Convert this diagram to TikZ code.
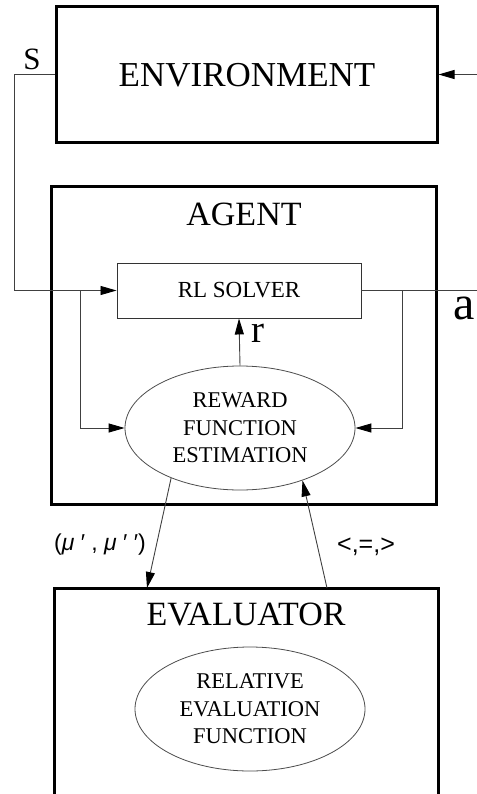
\documentclass[tikz,border=0pt]{standalone}
\usepackage{fontspec}
\setmainfont{Liberation Serif}
\setsansfont{Liberation Sans}
\usetikzlibrary{arrows.meta,shapes.geometric,calc}
\begin{document}
\begin{tikzpicture}[x=1bp,y=-1bp,
  thickbox/.style={draw=black,line width=3bp,rectangle,inner sep=0pt},
  thinbox/.style={draw=black!80,line width=0.9bp,rectangle,inner sep=0pt},
  ell/.style={draw=black!70,line width=0.8bp,ellipse,inner sep=0pt,align=center,
     font=\fontsize{22.5bp}{27.5bp}\selectfont},
  conn/.style={draw=black!75,line width=0.9bp},
  arr/.style={conn,-{Triangle[length=16bp,width=9bp,color=black,fill=black]}},
  big/.style={font=\fontsize{34bp}{40bp}\selectfont,inner sep=0pt},
  lbl/.style={inner sep=0pt}]
\useasboundingbox (0,0) rectangle (477,794);
\clip (0,0) rectangle (477,794);
% boxes
\node[thickbox,minimum width=380bp,minimum height=135bp] (env) at (247,74.5) {};
\node[big,font=\fontsize{35bp}{40bp}\selectfont] (envt) at (247,75) {ENVIRONMENT};
\node[thickbox,minimum width=384bp,minimum height=317bp] (agent) at (244,345.5) {};
\node[big] (agentt) at (244,203) [anchor=north] {AGENT};
\node[thinbox,minimum width=244bp,minimum height=55bp,font=\fontsize{23bp}{27bp}\selectfont] (rl) at (239,290.5) {RL SOLVER};
\node[ell,minimum width=230bp,minimum height=124bp] (rew) at (240,428) {REWARD\\FUNCTION\\ESTIMATION};
\node[thickbox,minimum width=383bp,minimum height=300bp] (eval) at (246.5,738) {};
\node[big] (evalt) at (246,603) [anchor=north] {EVALUATOR};
\node[ell,minimum width=230bp,minimum height=124bp] (rel) at (250,709) {RELATIVE\\EVALUATION\\FUNCTION};
% coordinates
\coordinate (in) at (477,74.5);
\coordinate (sc) at (14,74.5);
\coordinate (out) at (477,290.5);
\coordinate (lf) at (80,290.5);
\coordinate (rf) at (402,290.5);
\coordinate (e1) at (147,588);
\coordinate (e2) at (327,588);
% connectors
\draw[arr] (in) -- (env.east);
\draw[arr] (env.west) -- (sc) |- (rl.west);
\draw[conn] (rl.east) -- (out);
\draw[arr] (lf) |- (rew.west);
\draw[arr] (rf) |- (rew.east);
\draw[arr] (rew.north) -- (rl.south);
\draw[arr] (rew.216) -- (e1);
\draw[arr] (e2) -- (rew.-40.6);
% labels
\node[lbl,font=\fontsize{31bp}{36bp}\selectfont] (sl) at (32,59) {S};
\node[lbl,font=\fontsize{48bp}{52bp}\selectfont] (al) at (464,308) {a};
\node[lbl,font=\fontsize{39bp}{44bp}\selectfont] (rl2) at (258,333) {r};
\node[lbl,font=\sffamily\fontsize{23bp}{27bp}\selectfont] (mu) at (100,545) {(\textit{μ} ′ , \textit{μ} ′ ′)};
\node[lbl,font=\sffamily\fontsize{25bp}{28bp}\selectfont] (cmp) at (366,547) {<,=,>};
\end{tikzpicture}
\end{document}
